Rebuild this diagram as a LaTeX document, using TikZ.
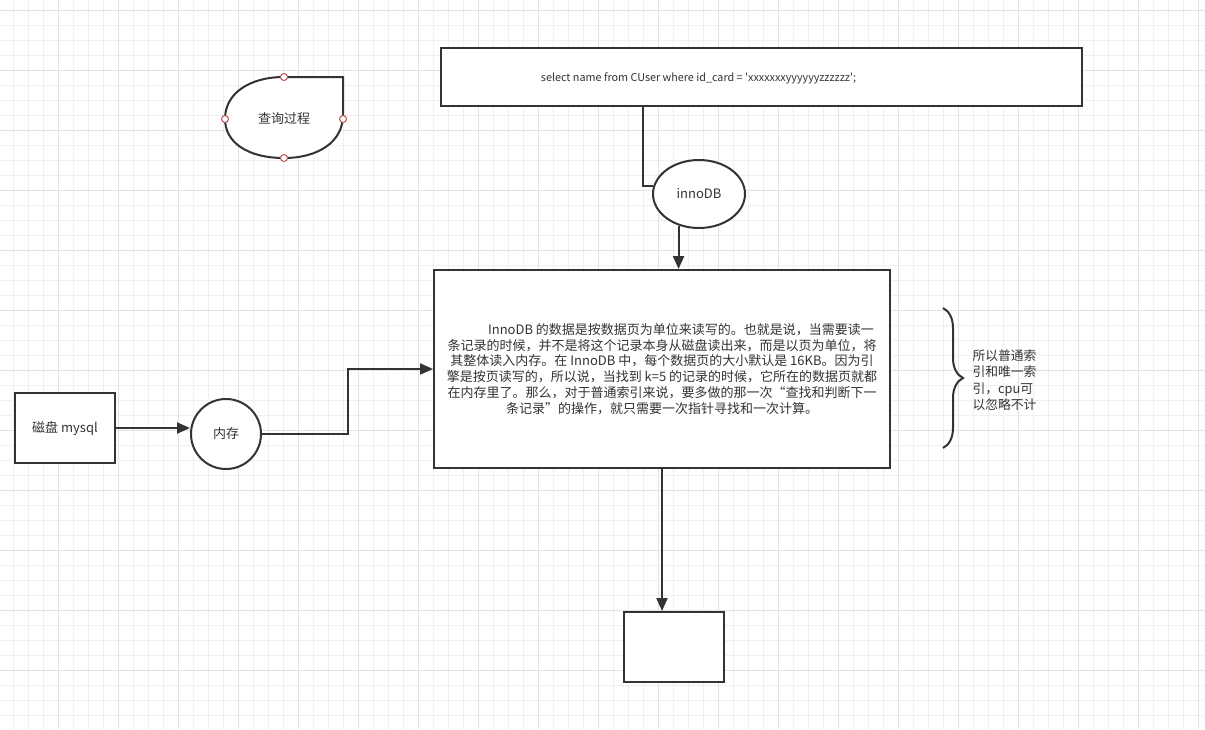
\documentclass[tikz,border=0pt]{standalone}
\usepackage{fontspec}
\setmainfont{Noto Sans CJK SC}
\newfontfamily\sqlfont{Noto Sans CJK SC}[Ligatures=TeXOff]
\usetikzlibrary{arrows.meta,shapes.geometric,decorations.pathreplacing}

\definecolor{ink}{HTML}{333333}
\definecolor{gridminor}{HTML}{F0F0F0}
\definecolor{gridmajor}{HTML}{E2E2E2}
\definecolor{portred}{HTML}{B85450}

\tikzset{
  box/.style={draw=ink, line width=2pt, fill=white, text=ink, inner sep=0pt},
  flow/.style={draw=ink, line width=2pt},
  arr/.style={flow, -{Triangle[length=13pt, width=11pt]}},
  port/.style={draw=portred, fill=white, line width=1pt, circle, minimum size=7pt, inner sep=0pt},
}

\begin{document}
\begin{tikzpicture}[x=1pt, y=-1pt, font=\fontsize{13}{15.7}\selectfont]
    \useasboundingbox (0,0) rectangle (1205,729);
    % grid
    \fill[white] (0,0) rectangle (1205,729);
    \foreach \gx in {0,...,80} \draw[gridminor] (13.3+15*\gx,0) -- (13.3+15*\gx,729);
    \foreach \gy in {0,...,48} \draw[gridminor] (0,10+15*\gy) -- (1205,10+15*\gy);
    \foreach \gx in {0,...,20} \draw[gridmajor] (58.3+60*\gx,0) -- (58.3+60*\gx,729);
    \foreach \gy in {0,...,12} \draw[gridmajor] (0,10+60*\gy) -- (1205,10+60*\gy);
    % stored data shape
    \draw[flow, fill=white] (284,77) -- (343,77) -- (343,115)
      .. controls (343,142) and (318,158) .. (284,158)
      .. controls (247,158) and (225,142) .. (225,119)
      .. controls (225,93) and (250,77) .. (284,77);
    \node[text=ink] (query) at (284,119) {查询过程};
    \foreach \px/\py in {284/77, 225/119, 343/119, 284/158}
      \node[port] at (\px,\py) {};
    % nodes
    \node[box, minimum width=641pt, minimum height=58pt] (sql) at (761.5,77) {};
    \node[text=ink, font=\sqlfont\fontsize{10.8}{13}\selectfont] (sqltext) at ([xshift=-63pt, yshift=-1pt]sql.center)
      {select name from CUser where id\_card = 'xxxxxxxyyyyyyzzzzzz';};
    \node[box, ellipse, minimum width=92pt, minimum height=68pt] (inno) at (699,194) {innoDB};
    \node[box, minimum width=456pt, minimum height=198pt, align=center] (main) at (662,369)
      {\hspace*{38pt}InnoDB 的数据是按数据页为单位来读写的。也就是说，当需要读一\\
       条记录的时候，并不是将这个记录本身从磁盘读出来，而是以页为单位，将\\
       其整体读入内存。在 InnoDB 中，每个数据页的大小默认是 16KB。因为引\\
       擎是按页读写的，所以说，当找到 k=5 的记录的时候，它所在的数据页就都\\
       在内存里了。那么，对于普通索引来说，要多做的那一次“查找和判断下一\\
       条记录”的操作，就只需要一次指针寻找和一次计算。};
    \node[box, minimum width=100pt, minimum height=70pt] (disk) at (65,428) {磁盘 mysql};
    \node[box, circle, minimum size=70pt] (mem) at (226,434) {内存};
    \node[box, minimum width=100pt, minimum height=70pt] (result) at (674,647) {};
    % connectors
    \draw[flow] ([xshift=-118.5pt]sql.south) |- (inno.170);
    \draw[arr] (inno.237) -- (inno.237 |- main.north);
    \draw[arr] (disk.east) -- (disk.east -| mem.west);
    \draw[arr] (mem.east) -- ++(86,0) |- (main.west);
    \draw[arr] (main.south) -- (main.south |- result.north);
    % brace and note
    \coordinate (bracetop) at (943,308);
    \coordinate (bracebot) at (943,448);
    \draw[flow, decorate, decoration={brace, amplitude=20pt}] (bracetop) -- (bracebot);
    \node[anchor=west, align=left, text=ink, font=\fontsize{12.8}{16.5}\selectfont] (note) at (969,380)
      {所以普通索\\引和唯一索\\引，cpu可\\以忽略不计};
\end{tikzpicture}
\end{document}
